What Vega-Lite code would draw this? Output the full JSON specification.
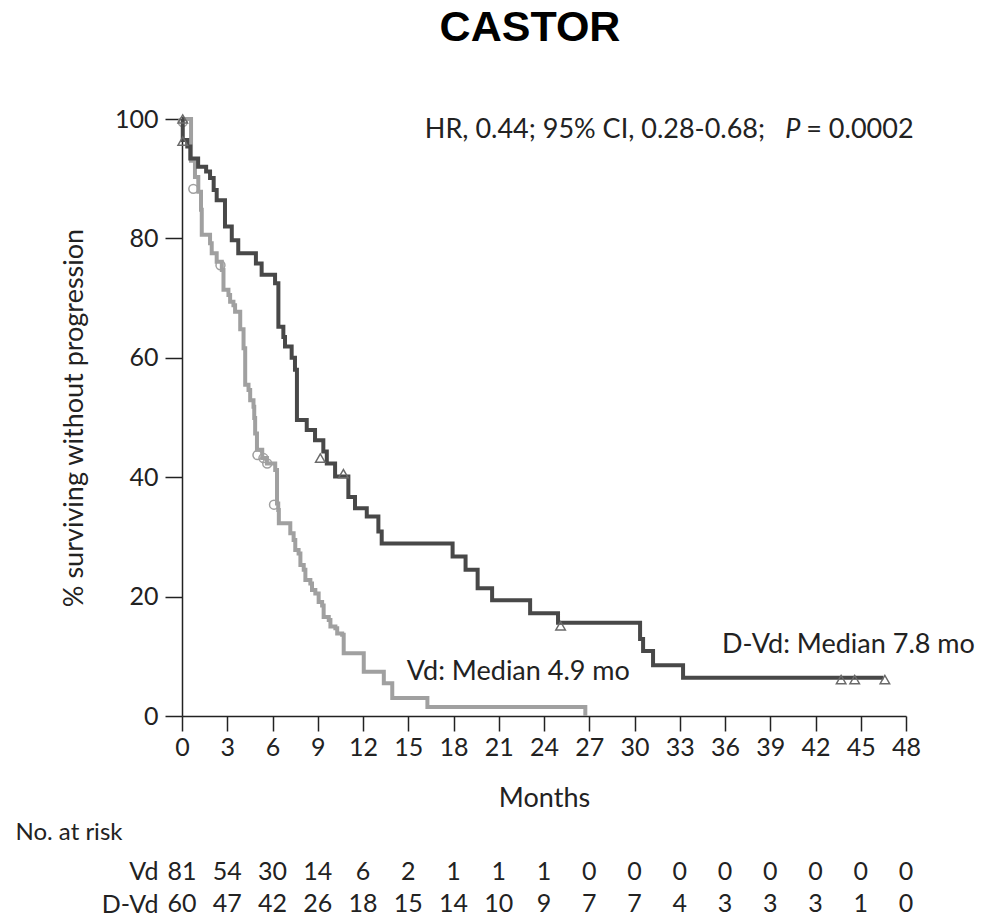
{
  "$schema": "https://vega.github.io/schema/vega-lite/v6.json",
  "background": "white",
  "autosize": {"type": "pad"},
  "padding": {"left": 15, "top": 7, "right": 5, "bottom": 3},
  "bounds": "flush",
  "spacing": 147,
  "title": {"text": "CASTOR", "font": "Liberation Sans", "fontSize": 43, "fontWeight": "bold", "color": "#000000", "anchor": "middle", "frame": "group", "dx": -14, "offset": 57},
  "config": {
    "font": "Lato",
    "view": {"stroke": null},
    "axis": {"grid": false, "domainColor": "#222222", "tickColor": "#222222", "labelColor": "#222222", "titleColor": "#222222", "labelFont": "Lato", "titleFont": "Lato", "labelFontSize": 25, "titleFontSize": 27, "titleFontWeight": "normal", "domainWidth": 1.5, "tickWidth": 1.5},
    "text": {"font": "Lato", "color": "#222222"}
  },
  "datasets": {
    "curves": [
      {"arm": "Vd", "month": 0, "pct": 100}, {"arm": "Vd", "month": 0.6, "pct": 93}, {"arm": "Vd", "month": 0.86, "pct": 90.3}, {"arm": "Vd", "month": 1.08, "pct": 87.8}, {"arm": "Vd", "month": 1.26, "pct": 84.8}, {"arm": "Vd", "month": 1.31, "pct": 80.6}, {"arm": "Vd", "month": 1.86, "pct": 79.2}, {"arm": "Vd", "month": 1.97, "pct": 77.5}, {"arm": "Vd", "month": 2.3, "pct": 76.1}, {"arm": "Vd", "month": 2.64, "pct": 74.7}, {"arm": "Vd", "month": 2.75, "pct": 71.4}, {"arm": "Vd", "month": 3.08, "pct": 70.5}, {"arm": "Vd", "month": 3.19, "pct": 69.4}, {"arm": "Vd", "month": 3.41, "pct": 68.8}, {"arm": "Vd", "month": 3.52, "pct": 67.7}, {"arm": "Vd", "month": 3.86, "pct": 64.8}, {"arm": "Vd", "month": 4.08, "pct": 61.6}, {"arm": "Vd", "month": 4.19, "pct": 55.5}, {"arm": "Vd", "month": 4.41, "pct": 54.6}, {"arm": "Vd", "month": 4.52, "pct": 52.9}, {"arm": "Vd", "month": 4.74, "pct": 51.8}, {"arm": "Vd", "month": 4.79, "pct": 49.9}, {"arm": "Vd", "month": 4.85, "pct": 47.3}, {"arm": "Vd", "month": 4.97, "pct": 44.6}, {"arm": "Vd", "month": 5.32, "pct": 43.2}, {"arm": "Vd", "month": 5.63, "pct": 42.3}, {"arm": "Vd", "month": 6.18, "pct": 41.2}, {"arm": "Vd", "month": 6.3, "pct": 35.6}, {"arm": "Vd", "month": 6.38, "pct": 34.5}, {"arm": "Vd", "month": 6.42, "pct": 32.3}, {"arm": "Vd", "month": 7.18, "pct": 30.6}, {"arm": "Vd", "month": 7.4, "pct": 29.5}, {"arm": "Vd", "month": 7.51, "pct": 27.8}, {"arm": "Vd", "month": 7.73, "pct": 27.2}, {"arm": "Vd", "month": 7.85, "pct": 25.3}, {"arm": "Vd", "month": 8.07, "pct": 24.5}, {"arm": "Vd", "month": 8.18, "pct": 22.8}, {"arm": "Vd", "month": 8.51, "pct": 22.2}, {"arm": "Vd", "month": 8.62, "pct": 21.1}, {"arm": "Vd", "month": 8.84, "pct": 20.5}, {"arm": "Vd", "month": 9.06, "pct": 19.1}, {"arm": "Vd", "month": 9.29, "pct": 18.5}, {"arm": "Vd", "month": 9.39, "pct": 16.6}, {"arm": "Vd", "month": 9.73, "pct": 16.1}, {"arm": "Vd", "month": 9.84, "pct": 15}, {"arm": "Vd", "month": 10.17, "pct": 14.7}, {"arm": "Vd", "month": 10.29, "pct": 13.8}, {"arm": "Vd", "month": 10.62, "pct": 13.6}, {"arm": "Vd", "month": 10.72, "pct": 10.5}, {"arm": "Vd", "month": 12.05, "pct": 7.4}, {"arm": "Vd", "month": 13.38, "pct": 5.5}, {"arm": "Vd", "month": 13.94, "pct": 3}, {"arm": "Vd", "month": 16.27, "pct": 1.5}, {"arm": "Vd", "month": 26.73, "pct": 1.5}, {"arm": "Vd", "month": 26.74, "pct": 0},
      {"arm": "D-Vd", "month": 0, "pct": 100}, {"arm": "D-Vd", "month": 0.05, "pct": 96.5}, {"arm": "D-Vd", "month": 0.35, "pct": 95.4}, {"arm": "D-Vd", "month": 0.55, "pct": 93.4}, {"arm": "D-Vd", "month": 1.07, "pct": 92}, {"arm": "D-Vd", "month": 1.6, "pct": 91.2}, {"arm": "D-Vd", "month": 1.86, "pct": 90.1}, {"arm": "D-Vd", "month": 2.1, "pct": 88.1}, {"arm": "D-Vd", "month": 2.3, "pct": 86.4}, {"arm": "D-Vd", "month": 2.85, "pct": 82}, {"arm": "D-Vd", "month": 3.3, "pct": 79.7}, {"arm": "D-Vd", "month": 3.73, "pct": 77.5}, {"arm": "D-Vd", "month": 4.9, "pct": 75.8}, {"arm": "D-Vd", "month": 5.28, "pct": 73.9}, {"arm": "D-Vd", "month": 6.17, "pct": 72.5}, {"arm": "D-Vd", "month": 6.39, "pct": 65.2}, {"arm": "D-Vd", "month": 6.72, "pct": 63.5}, {"arm": "D-Vd", "month": 6.83, "pct": 61.9}, {"arm": "D-Vd", "month": 7.27, "pct": 60}, {"arm": "D-Vd", "month": 7.49, "pct": 58}, {"arm": "D-Vd", "month": 7.62, "pct": 49.6}, {"arm": "D-Vd", "month": 8.27, "pct": 47.9}, {"arm": "D-Vd", "month": 8.82, "pct": 46.2}, {"arm": "D-Vd", "month": 9.37, "pct": 44.3}, {"arm": "D-Vd", "month": 9.6, "pct": 42.3}, {"arm": "D-Vd", "month": 10.15, "pct": 40.1}, {"arm": "D-Vd", "month": 11.03, "pct": 36.7}, {"arm": "D-Vd", "month": 11.47, "pct": 34.8}, {"arm": "D-Vd", "month": 12.25, "pct": 33.4}, {"arm": "D-Vd", "month": 13.02, "pct": 30.9}, {"arm": "D-Vd", "month": 13.24, "pct": 28.9}, {"arm": "D-Vd", "month": 17.94, "pct": 26.7}, {"arm": "D-Vd", "month": 18.8, "pct": 24.5}, {"arm": "D-Vd", "month": 19.6, "pct": 21.4}, {"arm": "D-Vd", "month": 20.56, "pct": 19.4}, {"arm": "D-Vd", "month": 23.08, "pct": 17.2}, {"arm": "D-Vd", "month": 24.93, "pct": 15.6}, {"arm": "D-Vd", "month": 30.37, "pct": 12.9}, {"arm": "D-Vd", "month": 30.57, "pct": 10.9}, {"arm": "D-Vd", "month": 31.23, "pct": 8.5}, {"arm": "D-Vd", "month": 33.22, "pct": 6.4}, {"arm": "D-Vd", "month": 46.5, "pct": 6.4}
    ],
    "censorVd": [
      {"month": 0.05, "pct": 99.5}, {"month": 0.75, "pct": 88.3}, {"month": 2.55, "pct": 75.5}, {"month": 5.0, "pct": 43.7}, {"month": 5.4, "pct": 43.2}, {"month": 5.65, "pct": 42.3}, {"month": 6.1, "pct": 35.4}
    ],
    "censorDVd": [
      {"month": 0.05, "pct": 100}, {"month": 0.05, "pct": 96.3}, {"month": 9.17, "pct": 43.2}, {"month": 10.7, "pct": 40.6}, {"month": 25.1, "pct": 15.1}, {"month": 43.7, "pct": 6.1}, {"month": 44.6, "pct": 6.1}, {"month": 46.6, "pct": 6.1}
    ],
    "notesLeft": [
      {"label": "HR, 0.44; 95% CI, 0.28-0.68;", "month": 16.1, "pct": 98.2},
      {"label": "Vd: Median 4.9 mo", "month": 14.9, "pct": 7.3},
      {"label": "D-Vd: Median 7.8 mo", "month": 35.8, "pct": 11.9}
    ],
    "notesItalic": [
      {"label": "P", "month": 40.5, "pct": 98.2}
    ],
    "notesRight": [
      {"label": "= 0.0002", "month": 48.5, "pct": 98.2}
    ],
    "risk": [
      {"arm": "Vd", "month": 0, "n": 81}, {"arm": "Vd", "month": 3, "n": 54}, {"arm": "Vd", "month": 6, "n": 30}, {"arm": "Vd", "month": 9, "n": 14}, {"arm": "Vd", "month": 12, "n": 6}, {"arm": "Vd", "month": 15, "n": 2}, {"arm": "Vd", "month": 18, "n": 1}, {"arm": "Vd", "month": 21, "n": 1}, {"arm": "Vd", "month": 24, "n": 1}, {"arm": "Vd", "month": 27, "n": 0}, {"arm": "Vd", "month": 30, "n": 0}, {"arm": "Vd", "month": 33, "n": 0}, {"arm": "Vd", "month": 36, "n": 0}, {"arm": "Vd", "month": 39, "n": 0}, {"arm": "Vd", "month": 42, "n": 0}, {"arm": "Vd", "month": 45, "n": 0}, {"arm": "Vd", "month": 48, "n": 0},
      {"arm": "D-Vd", "month": 0, "n": 60}, {"arm": "D-Vd", "month": 3, "n": 47}, {"arm": "D-Vd", "month": 6, "n": 42}, {"arm": "D-Vd", "month": 9, "n": 26}, {"arm": "D-Vd", "month": 12, "n": 18}, {"arm": "D-Vd", "month": 15, "n": 15}, {"arm": "D-Vd", "month": 18, "n": 14}, {"arm": "D-Vd", "month": 21, "n": 10}, {"arm": "D-Vd", "month": 24, "n": 9}, {"arm": "D-Vd", "month": 27, "n": 7}, {"arm": "D-Vd", "month": 30, "n": 7}, {"arm": "D-Vd", "month": 33, "n": 4}, {"arm": "D-Vd", "month": 36, "n": 3}, {"arm": "D-Vd", "month": 39, "n": 3}, {"arm": "D-Vd", "month": 42, "n": 3}, {"arm": "D-Vd", "month": 45, "n": 1}, {"arm": "D-Vd", "month": 48, "n": 0}
    ]
  },
  "vconcat": [
    {
      "width": 724,
      "height": 597,
      "layer": [
        {
          "data": {"name": "curves"},
          "transform": [{"filter": "datum.arm === 'Vd'"}],
          "mark": {"type": "line", "interpolate": "step-after", "strokeWidth": 4, "color": "#a0a0a0", "clip": false},
          "encoding": {
            "x": {"field": "month", "type": "quantitative", "scale": {"domain": [0, 48], "nice": false}, "axis": {"values": [0, 3, 6, 9, 12, 15, 18, 21, 24, 27, 30, 33, 36, 39, 42, 45, 48], "title": "Months", "tickSize": 15, "labelPadding": 4, "titlePadding": 25, "labelFlush": false}},
            "y": {"field": "pct", "type": "quantitative", "scale": {"domain": [0, 100], "nice": false}, "axis": {"values": [0, 20, 40, 60, 80, 100], "title": "% surviving without progression", "tickSize": 17, "labelPadding": 7, "titlePadding": 26}}
          }
        },
        {
          "mark": {"type": "rule", "strokeDash": [8, 6], "strokeWidth": 1.5, "color": "#222222"},
          "encoding": {"y": {"datum": 50, "type": "quantitative"}}
        },
        {
          "data": {"name": "censorVd"},
          "mark": {"type": "point", "shape": "circle", "filled": false, "size": 80, "strokeWidth": 1.5, "color": "#a0a0a0", "opacity": 1},
          "encoding": {"x": {"field": "month", "type": "quantitative"}, "y": {"field": "pct", "type": "quantitative"}}
        },
        {
          "data": {"name": "curves"},
          "transform": [{"filter": "datum.arm === 'D-Vd'"}],
          "mark": {"type": "line", "interpolate": "step-after", "strokeWidth": 4, "color": "#484848", "clip": false},
          "encoding": {"x": {"field": "month", "type": "quantitative"}, "y": {"field": "pct", "type": "quantitative"}}
        },
        {
          "data": {"name": "censorDVd"},
          "mark": {"type": "point", "shape": "triangle-up", "filled": false, "size": 90, "strokeWidth": 1.5, "color": "#6a6a6a", "opacity": 1},
          "encoding": {"x": {"field": "month", "type": "quantitative"}, "y": {"field": "pct", "type": "quantitative"}}
        },
        {
          "data": {"name": "notesLeft"},
          "mark": {"type": "text", "align": "left", "baseline": "middle", "fontSize": 27, "color": "#222222"},
          "encoding": {"x": {"field": "month", "type": "quantitative"}, "y": {"field": "pct", "type": "quantitative"}, "text": {"field": "label"}}
        },
        {
          "data": {"name": "notesItalic"},
          "mark": {"type": "text", "align": "center", "baseline": "middle", "fontSize": 27, "fontStyle": "italic", "color": "#222222"},
          "encoding": {"x": {"field": "month", "type": "quantitative"}, "y": {"field": "pct", "type": "quantitative"}, "text": {"field": "label"}}
        },
        {
          "data": {"name": "notesRight"},
          "mark": {"type": "text", "align": "right", "baseline": "middle", "fontSize": 27, "color": "#222222"},
          "encoding": {"x": {"field": "month", "type": "quantitative"}, "y": {"field": "pct", "type": "quantitative"}, "text": {"field": "label"}}
        }
      ]
    },
    {
      "width": 724,
      "height": 50,
      "data": {"name": "risk"},
      "mark": {"type": "text", "fontSize": 25, "baseline": "middle", "color": "#222222"},
      "encoding": {
        "x": {"field": "month", "type": "quantitative", "scale": {"domain": [0, 48], "nice": false}, "axis": null},
        "y": {"field": "arm", "type": "nominal", "scale": {"type": "point", "domain": ["Vd", "D-Vd"], "padding": 0.26}, "axis": {"title": "No. at risk", "titleAngle": 0, "titleAlign": "left", "titleBaseline": "middle", "titleX": -167, "titleY": -31, "domain": false, "ticks": false, "labelPadding": 24, "labelFontSize": 25, "titleFontSize": 24}},
        "text": {"field": "n", "type": "nominal"}
      }
    }
  ]
}
